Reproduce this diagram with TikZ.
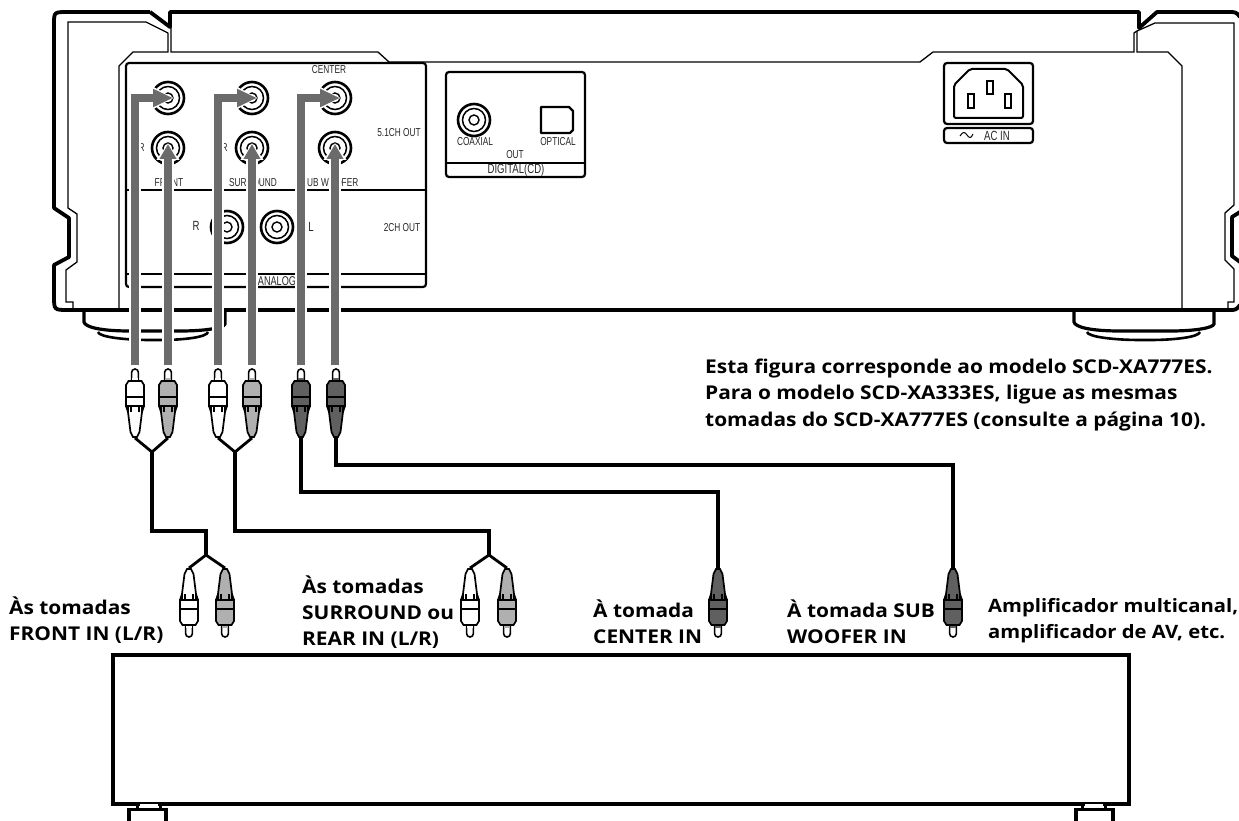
\documentclass[tikz,border=0pt]{standalone}
\usepackage{fontspec}
\setmainfont[FakeStretch=1.1]{Open Sans}
\newfontfamily\paneltext[FakeStretch=0.72]{Liberation Sans}
\usetikzlibrary{arrows.meta}
\definecolor{cablegray}{RGB}{107,107,107}
\definecolor{plugdark}{RGB}{96,96,96}
\definecolor{pluggray}{RGB}{176,176,176}
\tikzset{
  plugfill/.initial=white,
  plug/.pic={
    % drawn pointing up, origin at the back of the plug
    \draw[line width=1.6pt,fill=white] (-3.4,-55) -- (-3.4,-65.6) arc[start angle=180,end angle=360,radius=3.4] -- (3.4,-55);
    \fill[\pgfkeysvalueof{/tikz/plugfill}] (-2.6,-56) rectangle (2.6,-60);
    \draw[line width=1.7pt,fill=\pgfkeysvalueof{/tikz/plugfill}] (-2,-1) -- (-4.5,-6) -- (-7,-26) -- (-9,-32) -- (-9,-53) -- (-6.5,-57) -- (6.5,-57) -- (9,-53) -- (9,-32) -- (7,-26) -- (4.5,-6) -- (2,-1) -- cycle;
    \draw[line width=1.2pt] (-9.7,-32) -- (-9.7,-41) -- (9.7,-41) -- (9.7,-32) -- cycle
      (-7,-26) -- (-7,-32) (-4,-26) -- (-4,-32) -- (-9,-32) (7,-26) -- (7,-32) (4,-26) -- (4,-32) -- (9,-32);
  },
}
\begin{document}
\begin{tikzpicture}[
  x=1pt,y=-1pt,
  every node/.style={inner sep=0pt},
  chassisline/.style={line width=3.8pt,line join=round},
  thinline/.style={line width=1.3pt,line join=miter},
  panelline/.style={line width=2.2pt,rounded corners=3pt},
  jack/.style={circle,draw,line width=2.6pt,minimum size=32pt},
  jackmid/.style={circle,draw,line width=1.5pt,minimum size=23pt},
  jackpin/.style={circle,draw,line width=1.4pt,minimum size=10pt},
  panellabel/.style={font=\paneltext\fontsize{11.5}{12}\selectfont,text=black!85},
  biglabel/.style={font=\paneltext\fontsize{13.3}{14}\selectfont,text=black!85},
  notetext/.style={font=\fontsize{19}{26.3}\selectfont\bfseries,align=left,anchor=west},
  haloh/.style={line width=12pt,draw=white,-{Triangle[length=23pt,width=23pt]}},
  arrowh/.style={line width=7.5pt,draw=cablegray,-{Triangle[length=20pt,width=17pt]}},
  halov/.style={line width=12pt,draw=white,-{Triangle[length=17pt,width=22pt]}},
  arrowv/.style={line width=7.5pt,draw=cablegray,-{Triangle[length=15pt,width=16pt]}},
  audiocable/.style={line width=3.6pt,line join=miter},
  yline/.style={line width=2.8pt,line join=miter},
]
  \useasboundingbox (0,0) rectangle (1239,821);

  % Chassis outline
  \begin{scope}
  \clip (0,0) rectangle (1239,821);
  \draw[chassisline] (150,12) -- (170,27) -- (170,12) -- (1139,12) -- (1139,28) -- (1157,12) -- (1228,12)
    .. controls (1236,12) .. (1240,17);
  \draw[chassisline] (150,12) -- (68,12) .. controls (54,12) .. (54,24) -- (54,208) -- (69,218) -- (69,257)
    -- (54,265) -- (54,296) .. controls (54,310) .. (68,310) -- (1229,310) .. controls (1236,310) .. (1240,305);
  \draw[chassisline] (1240,212) -- (1232,217) -- (1232,256) -- (1240,262);
  \end{scope}

  % Inner body lines
  \draw[thinline] (168,33) -- (146,22) -- (68,22) -- (68,208) -- (77,214) -- (77,262) -- (66,270) -- (66,302) -- (73,302) -- (73,308);
  \draw[thinline] (168,33) -- (168,52) -- (133,52) -- (119,66) -- (119,308);
  \draw[thinline] (171,14) -- (171,52) -- (378,52) -- (389,62) -- (920,62) -- (933,52) -- (1134,52) -- (1134,33) -- (1137,31) -- (1155,23)
    -- (1234,23) -- (1234,205) -- (1225,213) -- (1225,260) -- (1234,269) -- (1234,302) -- (1228,302) -- (1228,308);
  \draw[thinline] (1137,31) -- (1137,52) -- (1168,52) -- (1182,66) -- (1182,308);

  % Feet
  \draw[line width=3.2pt] (84,311) -- (84,322) .. controls (85,327) and (100,331) .. (130,331) -- (180,331) .. controls (205,331) and (224,328) .. (225,324) -- (225,311);
  \draw[line width=2.6pt] (98,332) .. controls (99,337) and (125,340) .. (150,340) -- (160,340) .. controls (185,340) and (207,337) .. (208,332);
  \draw[line width=3.2pt] (1074,311) -- (1074,322) .. controls (1075,327) and (1090,331) .. (1120,331) -- (1170,331) .. controls (1195,331) and (1213,328) .. (1214,324) -- (1214,311);
  \draw[line width=2.6pt] (1087,332) .. controls (1088,337) and (1115,340) .. (1140,340) -- (1150,340) .. controls (1175,340) and (1199,337) .. (1200,332);

  % Analog panel
  \draw[panelline] (126,63) rectangle (426,287);
  \draw[line width=2.2pt] (126,190) -- (426,190) (126,274) -- (426,274);
  \node[biglabel,font=\paneltext\fontsize{12.7}{13}\selectfont,fill=white,inner xsep=1pt] (analog) at (277,281) {ANALOG};
  \node[jack] (jfl) at (168,98) {};  \node[jackmid] at (jfl) {};  \node[jackpin] at (jfl) {};
  \node[jack] (jsl) at (252,98) {};  \node[jackmid] at (jsl) {};  \node[jackpin] at (jsl) {};
  \node[jack] (jc) at (335,98) {};   \node[jackmid] at (jc) {};   \node[jackpin] at (jc) {};
  \node[jack] (jfr) at (168,148) {}; \node[jackmid] at (jfr) {};  \node[jackpin] at (jfr) {};
  \node[jack] (jsr) at (252,148) {}; \node[jackmid] at (jsr) {};  \node[jackpin] at (jsr) {};
  \node[jack] (jw) at (335,148) {};  \node[jackmid] at (jw) {};   \node[jackpin] at (jw) {};
  \node[jack] (jr) at (227,227) {};  \node[jackmid] at (jr) {};   \node[jackpin] at (jr) {};
  \node[jack] (jl) at (277,227) {};  \node[jackmid] at (jl) {};   \node[jackpin] at (jl) {};
  \node[panellabel] (lcenter) at (329,70) {CENTER};
  \node[panellabel] (l51) at (399,133) {5.1CH OUT};
  \node[panellabel] (l2ch) at (402,228) {2CH OUT};
  \node[biglabel] (lr) at (196,226) {R};
  \node[biglabel] (ll) at (311,227) {L};
  \node[panellabel] (lr1) at (141.5,148) {R};
  \node[panellabel] (lr2) at (224.5,148) {R};
  \node[panellabel] (lfront) at (169,183) {FRONT};
  \node[panellabel] (lsur) at (253,183) {SURROUND};
  \node[panellabel] (lsub) at (330,183) {SUB WOOFER};

  % Digital panel
  \draw[panelline] (446,72) rectangle (585,177);
  \draw[line width=1.8pt] (446,163) -- (585,163);
  \node[jack] (jcoax) at (474,120) {};
  \node[jackmid] at (jcoax) {};
  \node[jackpin] at (jcoax) {};
  \node[panellabel] (lcoax) at (475,142) {COAXIAL};
  \node[panellabel] (lopt) at (558,142) {OPTICAL};
  \node[panellabel] (lout) at (515,155) {OUT};
  \node[biglabel] (ldig) at (516,170) {DIGITAL(CD)};
  \draw[line width=2.2pt,line join=round] (541,107) -- (569,107) -- (573,111) -- (573,130) -- (570,133) -- (541,133) -- cycle;

  % AC inlet
  \draw[panelline] (944,63) rectangle (1033,124);
  \draw[line width=2pt,rounded corners=2pt] (954,85) -- (970,69) -- (1007,69) -- (1023,85) -- (1023,118) -- (954,118) -- cycle;
  \draw[line width=2pt] (968,94) rectangle (974,108) (987,81) rectangle (993,94) (1005,94) rectangle (1011,108);
  \draw[panelline] (944,128) rectangle (1033,143);
  \node[biglabel] (lac) at (997,135.5) {AC IN};
  \draw[line width=1pt] (960,136) .. controls (963,131) and (965,132) .. (967,135) .. controls (969,138) and (971,139) .. (973,134);

  % Plugs at the player
  \coordinate (pfl) at (135,438);
  \coordinate (pfr) at (168,438);
  \coordinate (psl) at (218,438);
  \coordinate (psr) at (252,438);
  \coordinate (pc) at (301,438);
  \coordinate (pw) at (336,438);
  \pic at (pfl) {plug};
  \pic[plugfill=pluggray] at (pfr) {plug};
  \pic at (psl) {plug};
  \pic[plugfill=pluggray] at (psr) {plug};
  \pic[plugfill=plugdark] at (pc) {plug};
  \pic[plugfill=plugdark] at (pw) {plug};

  % Gray arrows from the plugs to the jacks
  \coordinate (afl) at (135,365);
  \coordinate (afr) at (168,365);
  \coordinate (asl) at (218,365);
  \coordinate (asr) at (252,365);
  \coordinate (ac) at (301,365);
  \coordinate (aw) at (335,365);
  \foreach \from/\to in {afl/jfl,asl/jsl,ac/jc}{
    \draw[haloh,shorten >=-6pt] (\from) |- (\to.center);
  }
  \foreach \from/\to in {afr/jfr,asr/jsr,aw/jw}{
    \draw[halov,shorten >=-5pt] (\from) -- (\to.center);
  }
  \foreach \from/\to in {afl/jfl,asl/jsl,ac/jc}{
    \draw[arrowh,shorten >=-5pt] (\from) |- (\to.center);
  }
  \foreach \from/\to in {afr/jfr,asr/jsr,aw/jw}{
    \draw[arrowv,shorten >=-4pt] (\from) -- (\to.center);
  }

  % Amplifier box
  \draw[line width=3.4pt] (113,655) rectangle (1129,804);
  \draw[line width=2pt,white] (140,805) -- (158,805) (1085,805) -- (1103,805);
  \draw[line width=3pt] (137,804) -- (137,809) (160,804) -- (160,809) (1082,804) -- (1082,809) (1105,804) -- (1105,809);
  \draw[line width=3.4pt] (129,821) -- (129,809.5) -- (166,809.5) -- (166,821);
  \draw[line width=3.4pt] (1076,821) -- (1076,809.5) -- (1113,809.5) -- (1113,821);

  % Plugs at the amplifier
  \coordinate (qfl) at (189,568);
  \coordinate (qfr) at (225,568);
  \coordinate (qsl) at (470,568);
  \coordinate (qsr) at (507,568);
  \coordinate (qc) at (718,568);
  \coordinate (qw) at (953,568);
  \pic[rotate=180] at (qfl) {plug};
  \pic[rotate=180,plugfill=pluggray] at (qfr) {plug};
  \pic[rotate=180] at (qsl) {plug};
  \pic[rotate=180,plugfill=pluggray] at (qsr) {plug};
  \pic[rotate=180,plugfill=plugdark] at (qc) {plug};
  \pic[rotate=180,plugfill=plugdark] at (qw) {plug};

  % Cables
  \coordinate (jfront) at (152,452);
  \coordinate (jsurr) at (235,452);
  \coordinate (kfront) at (206,555);
  \coordinate (ksurr) at (489,555);
  \draw[yline] (pfl) -- (jfront) -- (pfr);
  \draw[yline] (psl) -- (jsurr) -- (psr);
  \draw[yline] (qfl) -- (kfront) -- (qfr);
  \draw[yline] (qsl) -- (ksurr) -- (qsr);
  \draw[audiocable] (jfront) |- (206,531) -- (kfront);
  \draw[audiocable] (jsurr) |- (489,531) -- (ksurr);
  \draw[audiocable] (pc) |- (718,492) -- (qc);
  \draw[audiocable] (pw) |- (953,465) -- (qw);

  % Notes
  \node[notetext] (note) at (705,395) {Esta figura corresponde ao modelo SCD-XA777ES.\\Para o modelo SCD-XA333ES, ligue as mesmas\\tomadas do SCD-XA777ES (consulte a página 10).};
  \node[notetext] (tfront) at (9,620.5) {Às tomadas\\FRONT IN (L/R)};
  \node[notetext] (tsurr) at (302,612) {Às tomadas\\SURROUND ou\\REAR IN (L/R)};
  \node[notetext] (tcenter) at (593,622) {À tomada\\CENTER IN};
  \node[notetext] (tsub) at (787,622) {À tomada SUB\\WOOFER IN};
  \node[notetext,font=\fontsize{18.4}{26.3}\selectfont\bfseries] (tamp) at (988,621) {Amplificador multicanal,\\amplificador de AV, etc.};
\end{tikzpicture}
\end{document}
